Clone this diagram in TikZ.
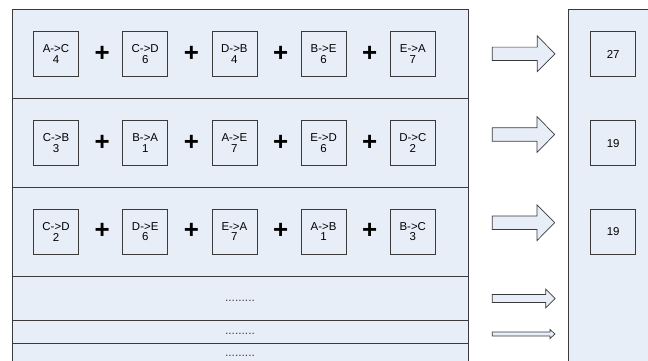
\documentclass[tikz,border=0pt]{standalone}
\usepackage{fontspec}
\setmainfont{Liberation Sans}
\usepackage{xcolor}
\definecolor{paneblue}{HTML}{E8EEF8}
\definecolor{lineg}{HTML}{3A3A3A}

\begin{document}
\begin{tikzpicture}[x=1bp,y=-1bp]
		\tikzset{panel/.style = {draw=lineg,fill=paneblue,line width=0.8bp}}
		\tikzset{sep/.style = {draw=lineg,line width=1bp}}
		\tikzset{cell/.style = {shape=rectangle,draw=lineg,fill=paneblue,line width=0.7bp,
			minimum width=45bp,minimum height=45bp,inner sep=0pt,align=center,
			font=\fontsize{11.5}{10.5}\selectfont}}
		\tikzset{plus/.style = {inner sep=0pt,font=\fontsize{26}{26}\selectfont\bfseries}}
		\tikzset{fat/.style = {draw=lineg,fill=paneblue,line width=0.7bp,line join=miter}}
		\tikzset{dots/.style = {inner sep=0pt,text=lineg,font=\fontsize{12}{12}\selectfont}}
		\useasboundingbox (0,0) rectangle (648,360);
		% panels
		\draw[panel] (12,9.5) rectangle (468,365);
		\draw[panel] (568,9.5) rectangle (655,365);
		\draw[sep] (12,98.7) -- (468,98.7);
		\draw[sep] (12,187) -- (468,187);
		\draw[sep] (12,276.7) -- (468,276.7);
		\draw[sep] (12,320.7) -- (468,320.7);
		\draw[sep] (12,343) -- (468,343);
		% first row
		\node[cell] (a1) at (56,54.2) {A->C\\4};
		\node[cell] (a2) at (145.2,54.2) {C->D\\6};
		\node[cell] (a3) at (234.4,54.2) {D->B\\4};
		\node[cell] (a4) at (323.6,54.2) {B->E\\6};
		\node[cell] (a5) at (412.8,54.2) {E->A\\7};
		\node[plus] (p1) at (102.2,53.7) {+};
		\node[plus] (p2) at (191.4,53.7) {+};
		\node[plus] (p3) at (280.6,53.7) {+};
		\node[plus] (p4) at (369.8,53.7) {+};
		% second row
		\node[cell] (b1) at (56,143.2) {C->B\\3};
		\node[cell] (b2) at (145.2,143.2) {B->A\\1};
		\node[cell] (b3) at (234.4,143.2) {A->E\\7};
		\node[cell] (b4) at (323.6,143.2) {E->D\\6};
		\node[cell] (b5) at (412.8,143.2) {D->C\\2};
		\node[plus] (q1) at (102.2,142.7) {+};
		\node[plus] (q2) at (191.4,142.7) {+};
		\node[plus] (q3) at (280.6,142.7) {+};
		\node[plus] (q4) at (369.8,142.7) {+};
		% third row
		\node[cell] (c1) at (56,231.8) {C->D\\2};
		\node[cell] (c2) at (145.2,231.8) {D->E\\6};
		\node[cell] (c3) at (234.4,231.8) {E->A\\7};
		\node[cell] (c4) at (323.6,231.8) {A->B\\1};
		\node[cell] (c5) at (412.8,231.8) {B->C\\3};
		\node[plus] (r1) at (102.2,231.3) {+};
		\node[plus] (r2) at (191.4,231.3) {+};
		\node[plus] (r3) at (280.6,231.3) {+};
		\node[plus] (r4) at (369.8,231.3) {+};
		% remaining rows
		\node[dots] (d1) at (240,301) {.........};
		\node[dots] (d2) at (240,334) {.........};
		\node[dots] (d3) at (240,355.5) {.........};
		% sums
		\node[cell] (s1) at (613.2,54.2) {27};
		\node[cell] (s2) at (613.2,143.2) {19};
		\node[cell] (s3) at (613.2,231.8) {19};
		% arrows
		\draw[fat] (492.3,47.1) -- (537.3,47.1) -- (537.3,36) -- (555,53.8)
			-- (537.3,71.6) -- (537.3,60.5) -- (492.3,60.5) -- cycle;
		\draw[fat] (492.3,127.8) -- (537,127.8) -- (537,116.7) -- (554.7,134.5)
			-- (537,152.3) -- (537,141.2) -- (492.3,141.2) -- cycle;
		\draw[fat] (492.3,216) -- (537,216) -- (537,204.9) -- (554.7,222.7)
			-- (537,240.5) -- (537,229.4) -- (492.3,229.4) -- cycle;
		\draw[fat] (492.3,294.5) -- (545.7,294.5) -- (545.7,289) -- (555.2,298.5)
			-- (545.7,308) -- (545.7,302.5) -- (492.3,302.5) -- cycle;
		\draw[fat] (492.3,332) -- (550,332) -- (550,329.5) -- (555,334)
			-- (550,338.5) -- (550,336) -- (492.3,336) -- cycle;
\end{tikzpicture}
\end{document}
